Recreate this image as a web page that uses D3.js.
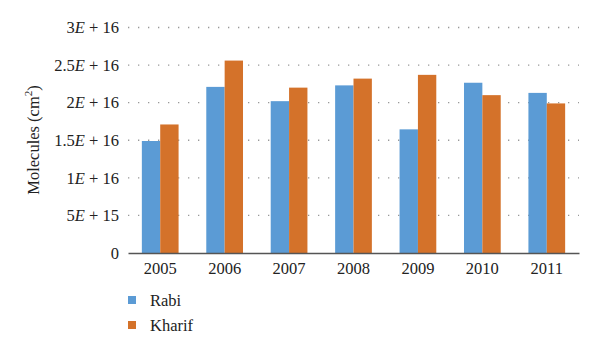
<!DOCTYPE html>
<html>
<head>
<meta charset="utf-8">
<script src="https://cdn.jsdelivr.net/npm/d3@7"></script>
<style>
  body { margin: 0; background: #fff; }
</style>
</head>
<body>
<div id="chart"></div>
<script>
// ── Data ────────────────────────────────────────────
var years = ["2005", "2006", "2007", "2008", "2009", "2010", "2011"];
var rabi = [1.49e16, 2.21e16, 2.02e16, 2.23e16, 1.645e16, 2.265e16, 2.13e16];
var kharif = [1.71e16, 2.56e16, 2.20e16, 2.32e16, 2.37e16, 2.10e16, 1.99e16];
var seriesNames = ["Rabi", "Kharif"];
var yTicks = [0, 5e15, 1e16, 1.5e16, 2e16, 2.5e16, 3e16];
var yTickLabels = [["0"], ["5", "E", " + 15"], ["1", "E", " + 16"], ["1.5", "E", " + 16"],
                   ["2", "E", " + 16"], ["2.5", "E", " + 16"], ["3", "E", " + 16"]];

var colors = { Rabi: "#5B9BD5", Kharif: "#D4722A" };

var width = 600, height = 351;
var margin = { top: 27.5, right: 21, bottom: 98, left: 128 };
var innerW = width - margin.left - margin.right;
var innerH = height - margin.top - margin.bottom;
var fontSize = 16.5;
var serif = "'Liberation Serif', 'DejaVu Serif', serif";

var svg = d3.select("#chart").append("svg")
  .attr("width", width).attr("height", height)
  .style("font-family", serif);

var g = svg.append("g")
  .attr("transform", "translate(" + margin.left + "," + margin.top + ")");

var x = d3.scaleBand().domain(years).range([0, innerW]).paddingInner(0.43).paddingOuter(0.215);
var xs = d3.scaleBand().domain(seriesNames).range([0, x.bandwidth()]);
var y = d3.scaleLinear().domain([0, 3e16]).range([innerH, 0]);

// dotted grid
g.append("g")
  .selectAll("line")
  .data(yTicks.slice(1))
  .join("line")
  .attr("x1", 0).attr("x2", innerW)
  .attr("y1", function (d) { return y(d); })
  .attr("y2", function (d) { return y(d); })
  .attr("stroke", "#999")
  .attr("stroke-width", 1.3)
  .attr("stroke-dasharray", "1.3,8.7");

// y tick labels
var yl = g.append("g").selectAll("text")
  .data(yTicks)
  .join("text")
  .attr("x", -9)
  .attr("y", function (d) { return y(d); })
  .attr("dy", "0.35em")
  .attr("text-anchor", "end")
  .style("font-family", serif)
  .style("font-size", fontSize + "px")
  .attr("fill", "#222");
yl.each(function (d, i) {
  var t = d3.select(this);
  yTickLabels[i].forEach(function (part, j) {
    t.append("tspan")
      .style("font-style", j === 1 ? "italic" : null)
      .text(part);
  });
});

// bars
var groups = g.append("g").selectAll("g")
  .data(years)
  .join("g")
  .attr("transform", function (d) { return "translate(" + x(d) + ",0)"; });

groups.selectAll("rect")
  .data(function (d, i) {
    return [{ key: "Rabi", v: rabi[i] }, { key: "Kharif", v: kharif[i] }];
  })
  .join("rect")
  .attr("x", function (d) { return xs(d.key); })
  .attr("width", xs.bandwidth())
  .attr("y", function (d) { return y(d.v); })
  .attr("height", function (d) { return innerH - y(d.v); })
  .attr("fill", function (d) { return colors[d.key]; });

// x axis
var xAxis = g.append("g")
  .attr("transform", "translate(0," + innerH + ")")
  .call(d3.axisBottom(x).tickSize(0).tickPadding(9));
xAxis.attr("font-family", null).attr("font-size", null);
xAxis.select(".domain").attr("stroke", "#555").attr("stroke-width", 1.5);
xAxis.selectAll("text")
  .style("font-family", serif)
  .style("font-size", fontSize + "px")
  .attr("fill", "#222");

// y label
svg.append("text")
  .attr("transform", "translate(39,140) rotate(-90)")
  .attr("text-anchor", "middle")
  .style("font-family", serif)
  .style("font-size", fontSize + "px")
  .attr("fill", "#222")
  .call(function (t) {
    t.append("tspan").text("Molecules (cm");
    t.append("tspan").style("font-size", "11px").attr("dy", -7).text("2");
    t.append("tspan").attr("dy", 7).text(")");
  });

// legend
var legend = svg.append("g").attr("transform", "translate(128,300)");
legend.selectAll("g")
  .data(seriesNames)
  .join("g")
  .attr("transform", function (d, i) { return "translate(0," + i * 25 + ")"; })
  .call(function (item) {
    item.append("rect")
      .attr("x", 0).attr("y", -4)
      .attr("width", 8).attr("height", 8)
      .attr("fill", function (d) { return colors[d]; });
    item.append("text")
      .attr("x", 22).attr("dy", "0.35em")
      .style("font-family", serif)
      .style("font-size", fontSize + "px")
      .attr("fill", "#222")
      .text(function (d) { return d; });
  });
</script>
</body>
</html>
